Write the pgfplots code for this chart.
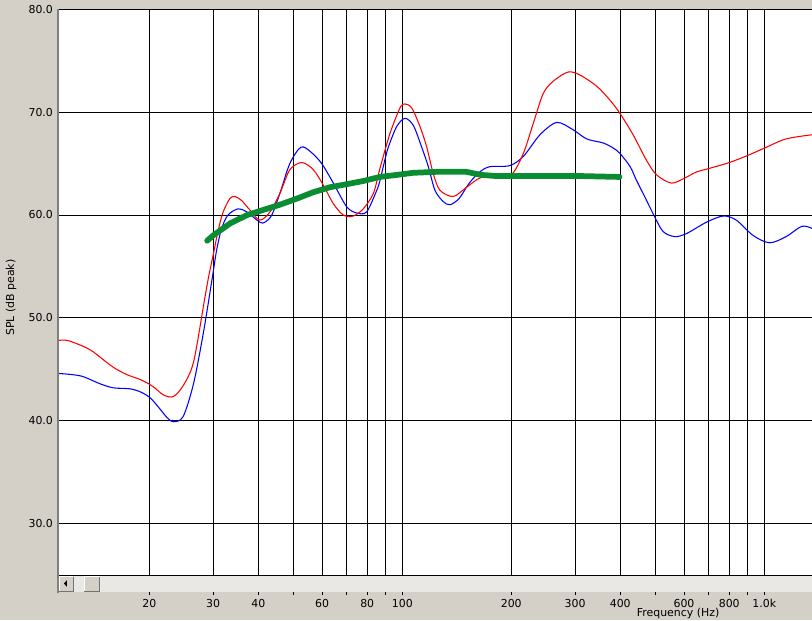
\documentclass[border=0pt]{standalone}
\usepackage{pgfplots}
\pgfplotsset{compat=1.18}
\usepackage{fontspec}
\setmainfont{DejaVu Sans}
\definecolor{winbg}{RGB}{212,208,200}
\definecolor{scrollbg}{RGB}{234,232,228}
\definecolor{rewred}{RGB}{255,0,0}
\definecolor{rewblue}{RGB}{0,0,255}
\definecolor{rewgreen}{RGB}{10,140,50}
\newcommand{\uifont}{\fontsize{8.2}{10}\selectfont}
\begin{document}
\begin{tikzpicture}
\useasboundingbox (0,0) rectangle (609pt,465pt);
\clip (0,0) rectangle (609pt,465pt);
\fill[winbg] (0,0) rectangle (609pt,465pt);
\begin{axis}[
  at={(43.275pt,33.75pt)}, anchor=south west,
  scale only axis, width=565.725pt, height=424.275pt,
  xmode=log, xmin=11.17, xmax=1354.5, ymin=25, ymax=80,
  axis background/.style={fill=white},
  axis line style={draw=none},
  xtick={20,30,40,50,60,70,80,90,100,200,300,400,500,600,700,800,900,1000},
  xticklabels={20,30,40,,60,,80,,100,200,300,400,,600,,800,,1.0k},
  ytick={30,40,50,60,70,80},
  yticklabels={30.0,40.0,50.0,60.0,70.0,80.0},
  xmajorgrids, ymajorgrids,
  major grid style={black, line width=0.75pt},
  xtick pos=bottom, ytick pos=left,
  major tick length=2.25pt,
  xtick style={black, line width=0.75pt, yshift=-15pt},
  ytick style={draw=none},
  tick label style={font=\uifont, text=black},
  xticklabel style={anchor=base, inner sep=0pt, yshift=-24pt},
  yticklabel style={anchor=east, inner sep=0pt, xshift=-3.4pt},
  xlabel={Frequency (Hz)},
  xlabel style={at={(axis description cs:0.8224,0)}, anchor=base, yshift=-31.4pt, inner sep=0pt, font=\uifont},
  ylabel={SPL (dB peak)},
  ylabel style={at={(axis description cs:-0.0619,0.4905)}, anchor=center, inner sep=0pt, font=\uifont},
  title={Left Channel},
  title style={at={(axis description cs:0.7919,1)}, anchor=base, yshift=3.4pt, inner sep=0pt, font=\uifont},
]
\addplot[rewblue, line width=0.8pt, smooth, tension=0.5] coordinates {
(11.17,44.6)(12.1,44.5)(13.1,44.3)(14.6,43.6)(15.9,43.2)(17.7,43.1)(18.9,42.8)(20,42.3)(21.0,41.5)(22.4,40.3)(23.3,39.9)(24.8,40.4)(26.5,43.6)(28.2,48.5)(29.8,53.7)(30.7,56.6)(31.7,58.7)(33.0,60.0)(35.2,60.6)(37.2,60.3)(40.4,59.3)(41.7,59.3)(43.6,60.0)(45.9,62.1)(48.9,65.0)(52.5,66.6)(56,66.1)(59.9,65.0)(64.5,63.1)(70.2,60.8)(74.8,60.2)(79.7,60.3)(85,62.4)(86.7,63.3)(89,65.0)(91.5,66.6)(96.5,68.6)(101.7,69.4)(107.3,68.7)(113.1,66.6)(118.0,64.7)(123.1,62.4)(129.8,61.3)(135.4,61.0)(143.5,61.6)(153.1,63.1)(163.8,64.2)(174.6,64.7)(198,64.8)(216,65.7)(240,67.8)(267,69.0)(296,68.3)(323,67.4)(359,67.0)(383,66.5)(399,66.0)(426,64.7)(443,63.4)(467,61.8)(495,60.0)(525,58.4)(566,57.9)(610,58.2)(692,59.3)(770,59.9)(837,59.5)(932,58.0)(1035,57.3)(1149,57.9)(1269,58.9)(1354,58.7)
};
\addplot[rewred, line width=0.8pt, smooth, tension=0.5] coordinates {
(11.17,47.8)(11.9,47.8)(13.2,47.2)(14.0,46.7)(14.6,46.2)(15.9,45.2)(17.3,44.5)(18.9,44.0)(19.9,43.6)(20.7,43.2)(21.9,42.5)(23.3,42.35)(24.8,43.4)(26.5,45.7)(28.4,51.7)(29.1,53.8)(30.1,56.3)(31.0,58.5)(32.0,60.3)(33.4,61.6)(34.5,61.8)(36.0,61.4)(37.9,60.5)(40.4,59.5)(43.1,60.3)(45.9,62.1)(48.9,64.4)(52.8,65.1)(56.8,64.4)(60.5,62.9)(64.5,61.1)(68.7,60.0)(73.2,59.9)(78.0,60.6)(83.2,62.1)(86.7,64.5)(92.4,67.9)(98.5,70.4)(101.7,70.8)(106.2,70.4)(111.9,68.6)(116.8,66.6)(121.8,64.0)(127.1,62.4)(138.3,61.8)(150.5,62.7)(163.8,63.6)(180,63.8)(200,63.9)(216,66.0)(230,68.9)(245,71.8)(261,73.0)(287,73.9)(310,73.6)(345,72.5)(374,71.2)(399,69.9)(434,67.8)(473,65.3)(504,63.9)(554,63.1)(603,63.6)(651,64.2)(700,64.5)(800,65.1)(901,65.8)(1000,66.5)(1149,67.4)(1354,67.8)
};
\addplot[rewgreen, line width=4.3pt, line cap=round, line join=round] coordinates {
(28.9,57.5)(30,58.0)(33.5,59.2)(37.3,60.0)(40.5,60.4)(45.9,61.0)(51.2,61.6)(56.6,62.2)(63.1,62.7)(70.3,63.0)(77.9,63.3)(86.7,63.7)(96.7,63.9)(107,64.1)(125,64.2)(150,64.2)(165,63.9)(180,63.8)(250,63.8)(300,63.8)(398,63.7)
};
\end{axis}
\begin{scope}[x=0.75pt, y=-0.75pt, shift={(0pt,465pt)}]
  % scrollbar track
  \fill[scrollbg] (58.7,575.5) rectangle (812,592);
  \draw[black, line width=0.75pt] (57.7,575) -- (812,575);
  % left button
  \fill[winbg] (58.7,576) rectangle (74,592);
  \draw[white, line width=0.75pt] (59.2,591) -- (59.2,576.5) -- (73,576.5);
  \draw[black!55, line width=0.75pt] (59.2,591.2) -- (73.5,591.2) -- (73.5,576.5);
  \fill[black] (64,583.5) -- (66.8,580.3) -- (66.8,586.7) -- cycle;
  % thumb
  \fill[winbg] (83.5,576) rectangle (100,592);
  \draw[white, line width=0.75pt] (84,591) -- (84,576.5) -- (99.5,576.5);
  \draw[black!55, line width=0.75pt] (84,591.2) -- (99.7,591.2) -- (99.7,576.5);
  % left grey frame line
  \draw[black!50, line width=1.5pt] (57.7,9) -- (57.7,593);
\end{scope}
\end{tikzpicture}
\end{document}
